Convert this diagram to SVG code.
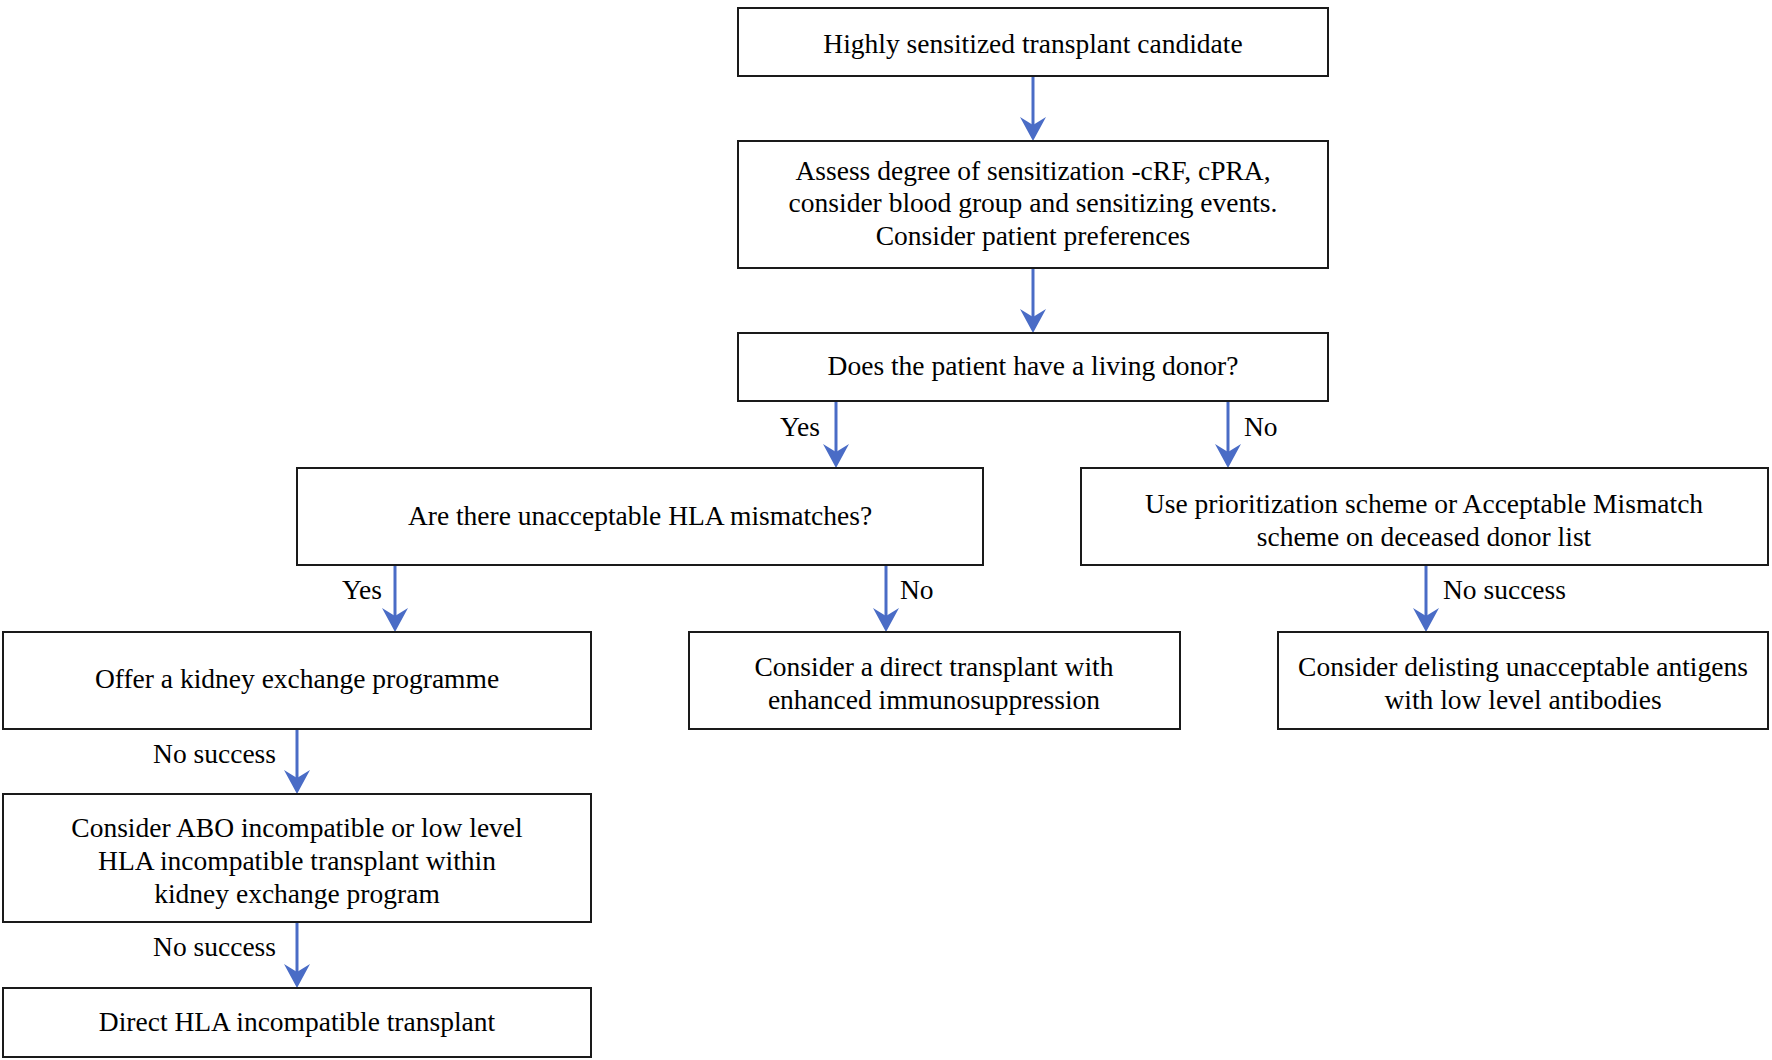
<svg xmlns="http://www.w3.org/2000/svg" width="1772" height="1060" viewBox="0 0 1772 1060">
  <style>
    .box { fill: #ffffff; stroke: #1a1a1a; stroke-width: 2; }
    .t { font-family: "Liberation Serif", "Times New Roman", serif; font-size: 27.5px; fill: #000000; text-anchor: middle; }
    .lbl { font-family: "Liberation Serif", "Times New Roman", serif; font-size: 27.5px; fill: #000000; }
    .end { text-anchor: end; }
    .conn { stroke: #4A6CC6; stroke-width: 3; fill: none; marker-end: url(#arr); }
  </style>
  <defs>
    <marker id="arr" markerUnits="userSpaceOnUse" viewBox="-24 -15 30 30" refX="0" refY="0" markerWidth="30" markerHeight="30" orient="auto">
      <path d="M -20 -13 L 4 0 L -20 13 L -12 0 Z" fill="#4A6CC6"/>
    </marker>
  </defs>
  <rect width="1772" height="1060" fill="#ffffff"/>

  <g id="connectors">
    <line class="conn" x1="1033" y1="76" x2="1033" y2="137"/>
    <line class="conn" x1="1033" y1="268" x2="1033" y2="329"/>
    <line class="conn" x1="836" y1="401" x2="836" y2="464"/>
    <line class="conn" x1="1228" y1="401" x2="1228" y2="464"/>
    <line class="conn" x1="395" y1="565" x2="395" y2="628"/>
    <line class="conn" x1="886" y1="565" x2="886" y2="628"/>
    <line class="conn" x1="1426" y1="565" x2="1426" y2="628"/>
    <line class="conn" x1="297" y1="729" x2="297" y2="790"/>
    <line class="conn" x1="297" y1="922" x2="297" y2="984"/>
    <text class="lbl end" x="820" y="436">Yes</text>
    <text class="lbl" x="1244" y="436">No</text>
    <text class="lbl end" x="382" y="599">Yes</text>
    <text class="lbl" x="900" y="599">No</text>
    <text class="lbl" x="1443" y="599">No success</text>
    <text class="lbl end" x="276" y="763">No success</text>
    <text class="lbl end" x="276" y="956">No success</text>
  </g>

  <g id="n1">
    <rect class="box" x="738" y="8" width="590" height="68"/>
    <text class="t" x="1033" y="53">Highly sensitized transplant candidate</text>
  </g>
  <g id="n2">
    <rect class="box" x="738" y="141" width="590" height="127"/>
    <text class="t" x="1033" y="180">Assess degree of sensitization -cRF, cPRA,</text>
    <text class="t" x="1033" y="212">consider blood group and sensitizing events.</text>
    <text class="t" x="1033" y="245">Consider patient preferences</text>
  </g>
  <g id="n3">
    <rect class="box" x="738" y="333" width="590" height="68"/>
    <text class="t" x="1033" y="375">Does the patient have a living donor?</text>
  </g>
  <g id="n4">
    <rect class="box" x="297" y="468" width="686" height="97"/>
    <text class="t" x="640" y="525">Are there unacceptable HLA mismatches?</text>
  </g>
  <g id="n5">
    <rect class="box" x="1081" y="468" width="687" height="97"/>
    <text class="t" x="1424" y="513">Use prioritization scheme or Acceptable Mismatch</text>
    <text class="t" x="1424" y="546">scheme on deceased donor list</text>
  </g>
  <g id="n6">
    <rect class="box" x="3" y="632" width="588" height="97"/>
    <text class="t" x="297" y="688">Offer a kidney exchange programme</text>
  </g>
  <g id="n7">
    <rect class="box" x="689" y="632" width="491" height="97"/>
    <text class="t" x="934" y="676">Consider a direct transplant with</text>
    <text class="t" x="934" y="709">enhanced immunosuppression</text>
  </g>
  <g id="n8">
    <rect class="box" x="1278" y="632" width="490" height="97"/>
    <text class="t" x="1523" y="676">Consider delisting unacceptable antigens</text>
    <text class="t" x="1523" y="709">with low level antibodies</text>
  </g>
  <g id="n9">
    <rect class="box" x="3" y="794" width="588" height="128"/>
    <text class="t" x="297" y="837">Consider ABO incompatible or low level</text>
    <text class="t" x="297" y="870">HLA incompatible transplant within</text>
    <text class="t" x="297" y="903">kidney exchange program</text>
  </g>
  <g id="n10">
    <rect class="box" x="3" y="988" width="588" height="69"/>
    <text class="t" x="297" y="1031">Direct HLA incompatible transplant</text>
  </g>
</svg>
